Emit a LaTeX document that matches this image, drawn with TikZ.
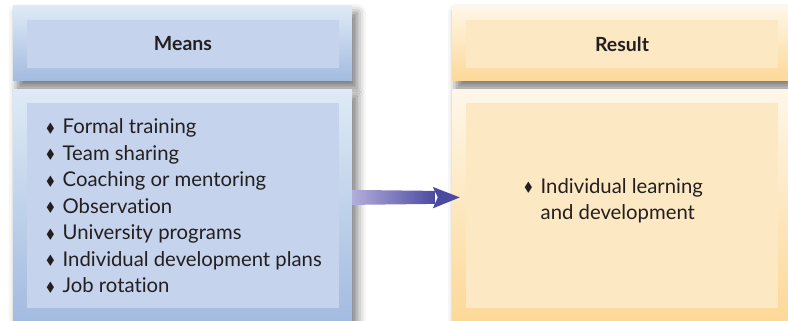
\documentclass[tikz,border=0pt]{standalone}
\usepackage{amssymb}
\usepackage{fontspec}
\setmainfont{Lato}[Ligatures=NoCommon]
\usetikzlibrary{positioning, calc, shadows.blur}
\definecolor{blueTop}{HTML}{DEEAF6}
\definecolor{blueBot}{HTML}{A3BBE0}
\definecolor{blueIn}{HTML}{C5D3EC}
\definecolor{sandTop}{HTML}{FEF7E8}
\definecolor{sandBot}{HTML}{FDD898}
\definecolor{sandIn}{HTML}{FDE8C4}
\definecolor{arrLight}{HTML}{B4ADDA}
\definecolor{arrDark}{HTML}{4B4AA2}
\definecolor{ink}{HTML}{231F20}
\newcommand{\dbul}{{\fontsize{13}{13}\selectfont\raisebox{1.5pt}{$\blacklozenge$}}\hspace{8pt}}

\begin{document}
\begin{tikzpicture}[
    x=1pt, y=-1pt,
    outer/.style={inner sep=0pt, minimum width=339pt,
                  blur shadow={shadow xshift=5pt, shadow yshift=-7pt,
                               shadow blur radius=9pt, shadow opacity=55}},
    headbox/.style={outer, minimum height=75pt},
    bodybox/.style={outer, minimum height=232pt},
    blueOut/.style={top color=blueTop, bottom color=blueBot},
    sandOut/.style={top color=sandTop, bottom color=sandBot},
    inhead/.style={inner sep=0pt, minimum width=312pt, minimum height=48pt,
                   font=\fontsize{19.5}{22}\selectfont\bfseries, text=ink},
    inbody/.style={inner sep=0pt, minimum width=312pt, minimum height=205pt},
    items/.style={align=left, text=ink, inner sep=0pt,
                  font=\fontsize{20.3}{26.5}\selectfont},
  ]
    \useasboundingbox (0,0) rectangle (788,321);

    \node[headbox, blueOut] (meansHead) at (182.5,43.5) {};
    \node[bodybox, blueOut, below=8pt of meansHead] (meansBody) {};
    \node[headbox, sandOut, minimum width=336pt] (resultHead) at (620,43.5) {};
    \node[bodybox, sandOut, minimum width=336pt, below=8pt of resultHead] (resultBody) {};

    \node[inhead, fill=blueIn] (meansTitle) at ($(meansHead)+(0.5,0.5)$) {Means};
    \node[inbody, fill=blueIn] (meansIn) at ($(meansBody)+(0.5,0.5)$) {};
    \node[inhead, fill=sandIn] (resultTitle) at ($(resultHead)+(2,0.5)$) {Result};
    \node[inbody, fill=sandIn] (resultIn) at ($(resultBody)+(2,0.5)$) {};

    \node[items, anchor=west] (meansList) at ($(meansIn.west)+(19,0)$)
      {\dbul Formal training\\
       \dbul Team sharing\\
       \dbul Coaching or mentoring\\
       \dbul Observation\\
       \dbul University programs\\
       \dbul Individual development plans\\
       \dbul Job rotation};
    \node[items, anchor=west] (resultList) at ($(resultIn.west)+(58,-5)$)
      {\dbul Individual learning\\
       \phantom{\dbul}and development};

    \coordinate (arrS) at ($(meansBody.east)+(0,-8)$);
    \coordinate (arrE) at ($(resultBody.west)+(8,-8)$);
    \shade[left color=arrLight, right color=arrDark]
      (arrS) ++(0,-7.5) -- ($(arrE)+(-25,-6.5)$) -- ($(arrE)+(-25,6.5)$)
      -- ($(arrS)+(0,7.5)$) -- cycle;
    \fill[arrDark] ($(arrE)+(-27,-10.5)$) -- (arrE) -- ($(arrE)+(-27,11)$)
      -- ($(arrE)+(-22,0)$) -- cycle;
  \end{tikzpicture}
\end{document}
